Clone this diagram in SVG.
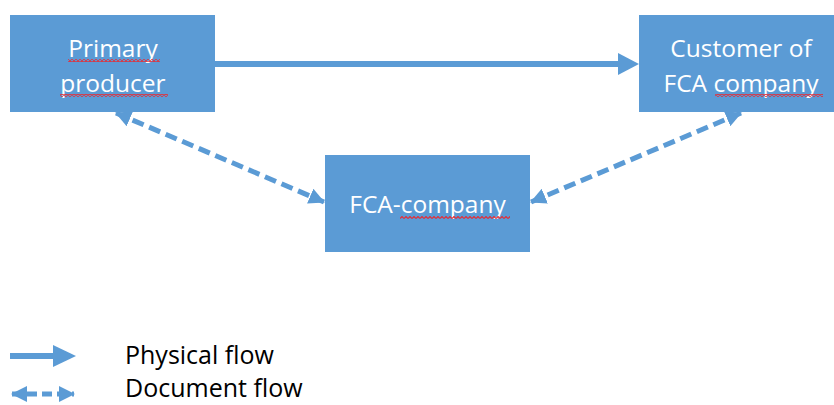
<svg xmlns="http://www.w3.org/2000/svg" width="834" height="405" viewBox="0 0 834 405">
<style>
.box{fill:#5B9BD5;}
.lbl{font-family:"Open Sans","Liberation Sans",sans-serif;font-size:24.5px;fill:#FFFFFF;text-anchor:middle;}
.leg{font-family:"Open Sans","Liberation Sans",sans-serif;font-size:25px;fill:#000000;}
.dash{stroke:#5B9BD5;stroke-width:5;stroke-dasharray:12 6;fill:none;}
.solid{stroke:#5B9BD5;stroke-width:6;fill:none;}
.head{fill:#5B9BD5;}
</style>
<defs>
<marker id="dh" markerUnits="userSpaceOnUse" markerWidth="16" markerHeight="16" refX="15" refY="8" orient="auto-start-reverse" viewBox="0 0 16 16">
<path d="M0,0 L16,8 L0,16 z" fill="#5B9BD5"/>
</marker>
<pattern id="squig" patternUnits="userSpaceOnUse" width="4" height="3">
<path d="M0,2.5 L2,0.5 L4,2.5" stroke="#E0303A" stroke-width="1.2" fill="none"/>
</pattern>
</defs>
<g id="connectors">
<line class="solid" x1="215" y1="64" x2="622" y2="64"/>
<polygon class="head" points="618,53 639,64 618,75"/>
<line class="dash" x1="116" y1="113" x2="324" y2="202" marker-start="url(#dh)" marker-end="url(#dh)"/>
<line class="dash" x1="741" y1="113" x2="531" y2="202" marker-start="url(#dh)" marker-end="url(#dh)"/>
</g>
<g id="primary-producer">
<rect class="box" x="10" y="15" width="205" height="97"/>
<text class="lbl" x="113" y="57">Primary</text>
<text class="lbl" x="113" y="92">producer</text>
<rect x="68" y="59" width="92" height="3" fill="url(#squig)"/>
<rect x="60" y="94" width="108" height="3" fill="url(#squig)"/>
</g>
<g id="customer">
<rect class="box" x="639" y="15" width="204" height="97"/>
<text class="lbl" x="741" y="57">Customer of</text>
<text class="lbl" x="741" y="92">FCA company</text>
<rect x="715" y="94" width="108" height="3" fill="url(#squig)"/>
</g>
<g id="fca-company">
<rect class="box" x="325" y="155" width="205" height="97"/>
<text class="lbl" x="427.5" y="213">FCA-company</text>
<rect x="400" y="216" width="110" height="3" fill="url(#squig)"/>
</g>
<g id="legend">
<line class="solid" x1="10" y1="356" x2="56" y2="356"/>
<polygon class="head" points="53,345 76,356 53,367"/>
<line class="dash" x1="12" y1="394" x2="74" y2="394" marker-start="url(#dh)" marker-end="url(#dh)" style="stroke-dasharray:10 5"/>
<text class="leg" x="125" y="364">Physical flow</text>
<text class="leg" x="125" y="397">Document flow</text>
</g>
</svg>
